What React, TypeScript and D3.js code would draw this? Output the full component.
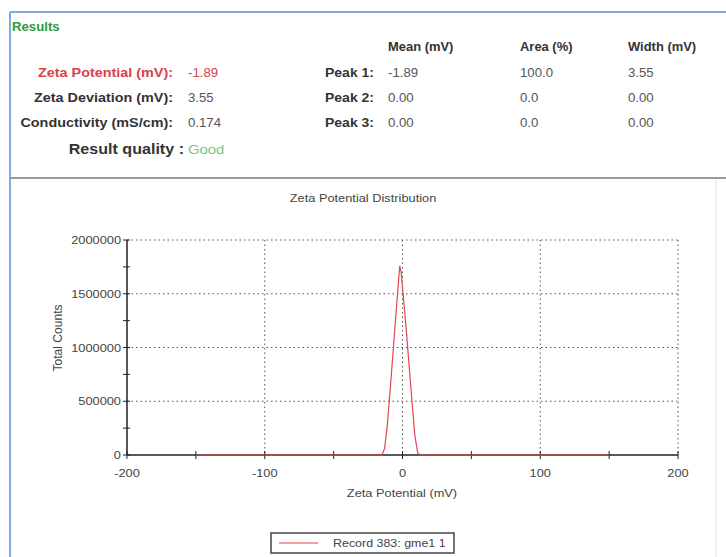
import React from 'react';
import * as d3 from 'd3';

// summary table values
const summaryLabels = ['Zeta Potential (mV):', 'Zeta Deviation (mV):', 'Conductivity (mS/cm):'];
const summaryValues = ['-1.89', '3.55', '0.174'];
const peakHeaders = ['Mean (mV)', 'Area (%)', 'Width (mV)'];
const peakLabels = ['Peak 1:', 'Peak 2:', 'Peak 3:'];
const peakMeans = ['-1.89', '0.00', '0.00'];
const peakAreas = ['100.0', '0.0', '0.0'];
const peakWidths = ['3.55', '0.00', '0.00'];

// distribution
const zetaMv = [-150, -15, -13, -11, -9, -7, -5, -3, -2, -1, 1, 3, 5, 7, 9, 11, 13, 150];
const totalCounts = [0, 0, 60000, 280000, 600000, 930000, 1270000, 1600000, 1760000, 1700000, 1420000, 1120000, 800000, 480000, 180000, 20000, 0, 0];

const xTicks = [-200, -100, 0, 100, 200];
const xMinorTicks = [-200, -150, -100, -50, 0, 50, 100, 150, 200];
const yTicks = [0, 500000, 1000000, 1500000, 2000000];
const yMinorTicks = [0, 250000, 500000, 750000, 1000000, 1250000, 1500000, 1750000, 2000000];

const FONT = '"Liberation Sans", Arial, sans-serif';

// text in the reference is a bit wide, so stretch it horizontally
const SText = ({ x, y, anchor = 'start', size = 10.5, fill = '#444', weight = 'normal', sx = 1.22, children }: any) => (
  <text
    transform={`translate(${x},${y}) scale(${sx},1)`}
    textAnchor={anchor}
    fontSize={size}
    fontWeight={weight}
    fill={fill}
    fontFamily={FONT}
  >
    {children}
  </text>
);

const App = () => {
  const x = d3.scaleLinear().domain([-200, 200]).range([127, 678]);
  const y = d3.scaleLinear().domain([0, 2000000]).range([455, 240]);

  const line = d3.line<number>()
    .x((d, i) => x(zetaMv[i]))
    .y(d => y(d));

  const rowY = [77, 102, 127];
  const colX = [388, 520, 628];

  return (
    <svg width={726} height={557} style={{ position: 'absolute', left: 0, top: 0, background: '#fff' }} fontFamily={FONT}>
      {/* frame */}
      <line x1={10} x2={726} y1={12} y2={12} stroke="#5a8fd2" strokeWidth={1.5} />
      <line x1={10} x2={10} y1={12} y2={557} stroke="#5a8fd2" strokeWidth={1.5} />
      <line x1={10} x2={726} y1={178} y2={178} stroke="#9a9a9a" strokeWidth={2} />
      <line x1={716} x2={716} y1={180} y2={557} stroke="#e2e2e2" strokeWidth={1} />

      {/* results section */}
      <SText x={12} y={31} size={12} weight="bold" fill="#2f9a3a" sx={1.1}>Results</SText>
      {summaryLabels.map((l, i) => (
        <g key={l}>
          <SText x={173} y={rowY[i]} anchor="end" size={12.5} weight="bold" fill={i === 0 ? '#d8424a' : '#333'} sx={1.15}>{l}</SText>
          <SText x={188} y={rowY[i]} size={12} fill={i === 0 ? '#d8424a' : '#555'} sx={1.1}>{summaryValues[i]}</SText>
        </g>
      ))}
      <SText x={184} y={154} anchor="end" size={14} weight="bold" fill="#333" sx={1.15}>Result quality :</SText>
      <SText x={188} y={154} size={13.5} fill="#7cc47c" sx={1.1}>Good</SText>

      {peakHeaders.map((h, i) => (
        <SText key={h} x={colX[i]} y={51} size={12} weight="bold" fill="#333" sx={1.08}>{h}</SText>
      ))}
      {peakLabels.map((l, i) => (
        <g key={l}>
          <SText x={374} y={rowY[i]} anchor="end" size={12.5} weight="bold" fill="#333" sx={1.12}>{l}</SText>
          <SText x={colX[0]} y={rowY[i]} size={12} fill="#555" sx={1.1}>{peakMeans[i]}</SText>
          <SText x={colX[1]} y={rowY[i]} size={12} fill="#555" sx={1.1}>{peakAreas[i]}</SText>
          <SText x={colX[2]} y={rowY[i]} size={12} fill="#555" sx={1.1}>{peakWidths[i]}</SText>
        </g>
      ))}

      {/* chart */}
      <SText x={363} y={202} anchor="middle" size={10.5}>Zeta Potential Distribution</SText>

      {/* grid */}
      {yTicks.filter(t => t > 0).map(t => (
        <line key={'gy' + t} x1={x(-200)} x2={x(200)} y1={y(t)} y2={y(t)} stroke="#555" strokeDasharray="1.5,3" />
      ))}
      {xTicks.filter(t => t > -200).map(t => (
        <line key={'gx' + t} x1={x(t)} x2={x(t)} y1={y(2000000)} y2={y(0)} stroke="#555" strokeDasharray="1.5,3" />
      ))}

      {/* axes */}
      <line x1={x(-200)} x2={x(-200)} y1={y(2000000)} y2={y(0)} stroke="#222" strokeWidth={1.5} />
      <line x1={x(-200)} x2={x(200)} y1={y(0)} y2={y(0)} stroke="#222" strokeWidth={1.5} />
      {yMinorTicks.map(t => (
        <line key={'ty' + t} x1={x(-200) - 4} x2={x(-200) + 3} y1={y(t)} y2={y(t)} stroke="#222" />
      ))}
      {xMinorTicks.map(t => (
        <line key={'tx' + t} x1={x(t)} x2={x(t)} y1={y(0) - 4} y2={y(0) + 4} stroke="#222" />
      ))}
      {yTicks.map(t => (
        <SText key={'ly' + t} x={x(-200) - 6} y={y(t) + 4} anchor="end">{t}</SText>
      ))}
      {xTicks.map(t => (
        <SText key={'lx' + t} x={x(t)} y={y(0) + 22} anchor="middle">{t}</SText>
      ))}

      {/* series */}
      <path d={line(totalCounts) || ''} fill="none" stroke="#e0474f" strokeWidth={1.2} />

      <text transform="translate(62,338) rotate(-90) scale(1.15,1.2)" textAnchor="middle" fontSize={10.5} fill="#444">Total Counts</text>
      <SText x={402} y={497} anchor="middle" size={10.5}>Zeta Potential (mV)</SText>

      {/* legend */}
      <rect x={271} y={533} width={183} height={20} fill="#fff" stroke="#444" strokeWidth={1.5} />
      <line x1={279} x2={318} y1={543} y2={543} stroke="#e0474f" strokeWidth={1.2} />
      <SText x={333} y={547} size={10.2}>Record 383: gme1 1</SText>
    </svg>
  );
};

export default App;
